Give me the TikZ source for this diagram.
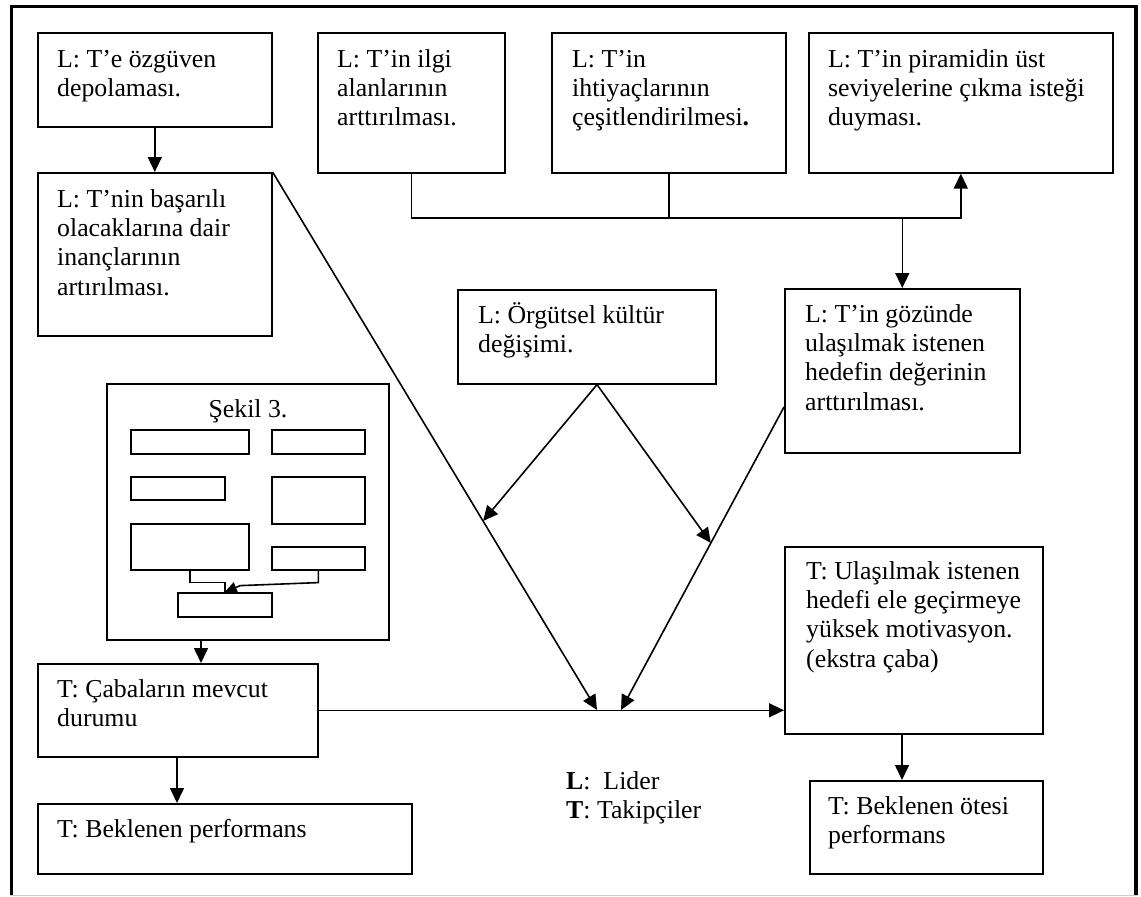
\documentclass[tikz,border=0pt]{standalone}
\usepackage{fontspec}
\setmainfont{Liberation Serif}
\usetikzlibrary{arrows.meta,calc}
\begin{document}
\begin{tikzpicture}[x=1pt,y=-1pt,
  box/.style={draw, line width=1.6pt, inner sep=0pt, anchor=north west},
  txt/.style={inner sep=0pt, anchor=north west, align=left, font=\fontsize{25.8}{29.3}\selectfont},
  conn/.style={line width=1.6pt},
  arr/.style={line width=1.6pt, -{Triangle[length=15pt,width=14pt]}},
  smallarr/.style={line width=1.6pt, -{Triangle[length=12pt,width=11pt]}},
]
\useasboundingbox (0,0) rectangle (1141,897);
% outer frame
\draw[line width=3.5pt] (11.5,896) -- (11.5,6.5) -- (1136,6.5) -- (1136,896);
\draw[black!20, line width=1pt] (10,895.5) -- (1138,895.5);

% boxes
\node[box, minimum width=234pt, minimum height=94pt] (A) at (37,32) {};
\node[box, minimum width=234pt, minimum height=163pt] (B) at (37,172) {};
\node[box, minimum width=187pt, minimum height=140pt] (C) at (317,32) {};
\node[box, minimum width=234pt, minimum height=140pt] (D) at (551,32) {};
\node[box, minimum width=304pt, minimum height=140pt] (E) at (808,32) {};
\node[box, minimum width=235pt, minimum height=164pt] (F) at (784,288) {};
\node[box, minimum width=258pt, minimum height=94pt] (G) at (457,289) {};
\node[box, minimum width=282pt, minimum height=256pt] (S) at (106,383) {};
\node[box, minimum width=118pt, minimum height=24pt] (s1) at (130,429) {};
\node[box, minimum width=93pt, minimum height=24pt] (s2) at (271,429) {};
\node[box, minimum width=94pt, minimum height=23pt] (s3) at (130,476) {};
\node[box, minimum width=93pt, minimum height=47pt] (s4) at (271,476) {};
\node[box, minimum width=118pt, minimum height=46pt] (s5) at (130,523) {};
\node[box, minimum width=93pt, minimum height=23pt] (s6) at (271,546) {};
\node[box, minimum width=94pt, minimum height=24pt] (s7) at (177,592) {};
\node[box, minimum width=280pt, minimum height=93pt] (H) at (37,663) {};
\node[box, minimum width=374pt, minimum height=70pt] (K) at (37,803) {};
\node[box, minimum width=258pt, minimum height=187pt] (I) at (784,546) {};
\node[box, minimum width=233pt, minimum height=93pt] (J) at (809,780) {};

% texts
\node[txt] (At) at (57,46.4) {\strut L: T’e özgüven\\depolaması.};
\node[txt] (Bt) at (57,186.4) {\strut L: T’nin başarılı\\olacaklarına dair\\inançlarının\\artırılması.};
\node[txt] (Ct) at (337,46.4) {\strut L: T’in ilgi\\alanlarının\\arttırılması.};
\node[txt] (Dt) at (572,46.4) {\strut L: T’in\\ihtiyaçlarının\\çeşitlendirilmesi\textbf{.}};
\node[txt] (Et) at (828,46.4) {\strut L: T’in piramidin üst\\seviyelerine çıkma isteği\\duyması.};
\node[txt] (Ft) at (805,301.4) {\strut L: T’in gözünde\\ulaşılmak istenen\\hedefin değerinin\\arttırılması.};
\node[txt] (Gt) at (478,302.4) {\strut L: Örgütsel kültür\\değişimi.};
\node[txt, anchor=base] (St) at (248,417) {Şekil 3.};
\node[txt] (Ht) at (57,676.4) {\strut T: Çabaların mevcut\\durumu};
\node[txt] (Kt) at (57,816.4) {\strut T: Beklenen performans};
\node[txt] (It) at (806,558.4) {\strut T: Ulaşılmak istenen\\hedefi ele geçirmeye\\yüksek motivasyon.\\(ekstra çaba)};
\node[txt] (Jt) at (828,793.4) {\strut T: Beklenen ötesi\\performans};
\node[txt] (Lt) at (566,768.4) {\strut\textbf{L}:\ \ Lider\\\textbf{T}: Takipçiler};

% connectors
\draw[arr] (A.south) -- (B.north);
\coordinate (bus) at (0,218);
\draw[arr] (C.south) |- (bus -| E.south) -- (E.south);
\draw[conn] (D.south) -- (D.south |- bus);
\draw[arr] (F.north |- bus) -- (F.north);

\coordinate (m1) at (597,710);
\coordinate (m2) at (621,710);
\coordinate (fw) at ($(F.north west)+(0,119)$);
\coordinate (ga) at ($(G.south west)+(140,0)$);
\draw[arr] (B.north east) -- (m1);
\draw[arr] (fw) -- (m2);
\draw[arr] (ga) -- ($(B.north east)!0.6487!(m1)$);
\draw[arr] (ga) -- ($(fw)!0.4488!(m2)$);

\draw[arr] (H.east) -- (H.east -| I.west);
\coordinate (sx) at ($(S.south west)+(95,0)$);
\draw[arr] (sx) -- (sx |- H.north);
\coordinate (hx) at ($(H.south west)+(140,0)$);
\draw[arr] (hx) -- (hx |- K.north);
\coordinate (ix) at ($(I.south west)+(118,0)$);
\draw[arr] (ix) -- (ix |- J.north);

\draw[conn] (s5.south) -- ++(0,12) -| (s7.north);
\draw[smallarr] (s6.south) -- ++(0,12) -- ++(-78,3) -- (s7.north);
\end{tikzpicture}
\end{document}
